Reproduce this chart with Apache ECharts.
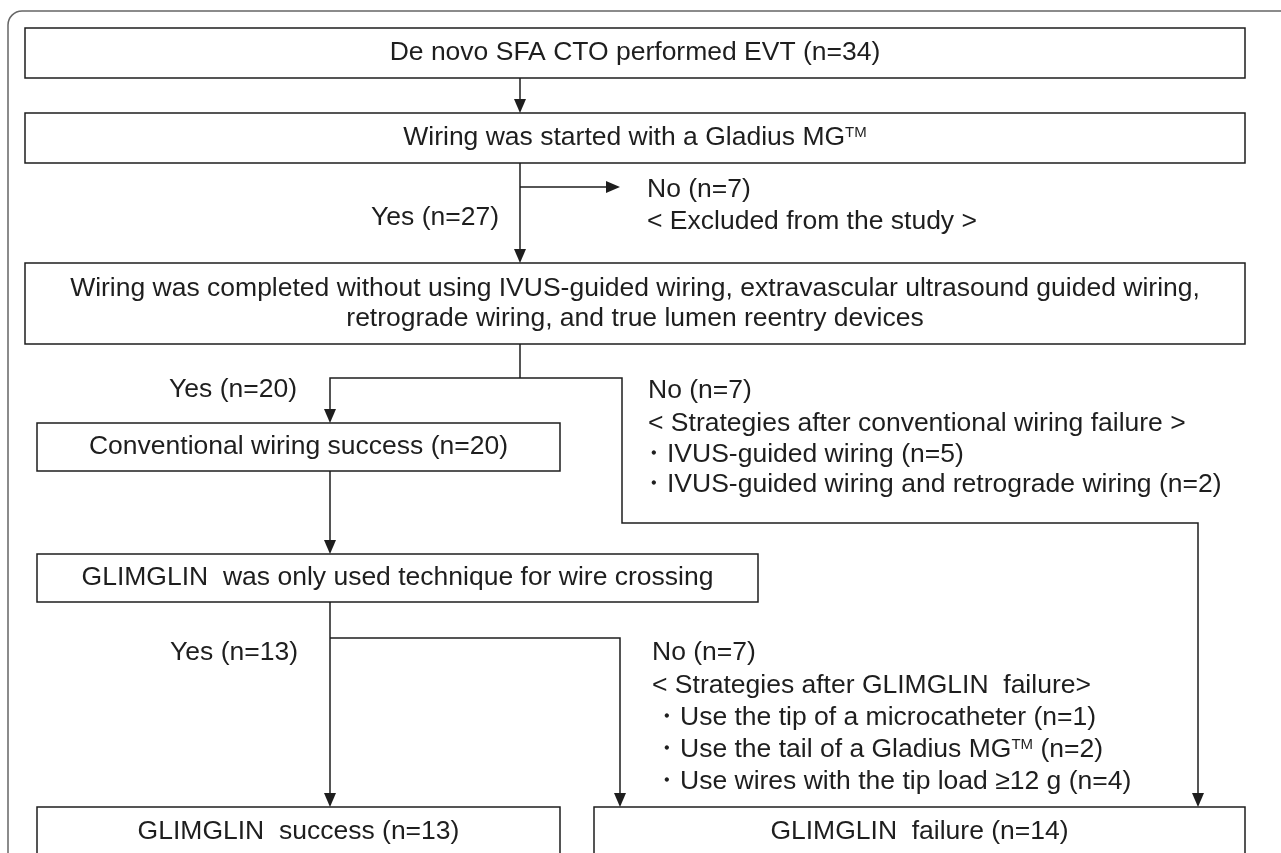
<!DOCTYPE html>
<html>
<head>
<meta charset="utf-8">
<script src="https://cdn.jsdelivr.net/npm/echarts@6/dist/echarts.min.js"></script>
<style>
html, body { margin: 0; padding: 0; background: #fff; }
#flow { width: 1281px; height: 853px; }
</style>
</head>
<body>
<div id="flow"></div>
<script>
// boxes of the flow chart
var boxTexts = [
    'De novo SFA CTO performed EVT (n=34)',
    'Wiring was started with a Gladius MG{sup|TM}',
    'Wiring was completed without using IVUS-guided wiring, extravascular ultrasound guided wiring,\nretrograde wiring, and true lumen reentry devices',
    'Conventional wiring success (n=20)',
    'GLIMGLIN  was only used technique for wire crossing',
    'GLIMGLIN  success (n=13)',
    'GLIMGLIN  failure (n=14)'
];
var boxLeft = [25, 25, 25, 37, 37, 37, 594];
var boxTop = [28, 113, 263, 423, 554, 807, 807];
var boxRight = [1245, 1245, 1245, 560, 758, 560, 1245];
var boxBottom = [78, 163, 344, 471, 602, 857, 857];

// connectors (polylines in chart units), 1 = ends with an arrow
var connectors = [
    [[520, 78], [520, 113]],
    [[520, 163], [520, 263]],
    [[520, 187], [620, 187]],
    [[520, 344], [520, 378]],
    [[520, 378], [330, 378], [330, 423]],
    [[520, 378], [622, 378], [622, 523], [1198, 523], [1198, 807]],
    [[330, 471], [330, 554]],
    [[330, 602], [330, 807]],
    [[330, 638], [620, 638], [620, 807]]
];
var connectorArrow = [1, 1, 1, 0, 1, 1, 1, 1, 1];

// free text next to the branches
var noteTexts = [
    'No (n=7)',
    '< Excluded from the study >',
    'Yes (n=27)',
    'Yes (n=20)',
    'No (n=7)',
    '< Strategies after conventional wiring failure >',
    '・IVUS-guided wiring (n=5)',
    '・IVUS-guided wiring and retrograde wiring (n=2)',
    'Yes (n=13)',
    'No (n=7)',
    '< Strategies after GLIMGLIN  failure>',
    '・Use the tip of a microcatheter (n=1)',
    '・Use the tail of a Gladius MG{sup|TM} (n=2)',
    '・Use wires with the tip load ≥12 g (n=4)'
];
var noteX = [647, 647, 499, 297, 648, 648, 640, 640, 298, 652, 652, 653, 653, 653];
var noteY = [190, 222, 218, 390, 391, 424, 455, 485, 653, 653, 686, 718, 750, 782];
var noteAlign = ['left', 'left', 'right', 'right', 'left', 'left', 'left', 'left', 'right', 'left', 'left', 'left', 'left', 'left'];

var FONT = '26.5px "Liberation Sans", Arial, sans-serif';
var INK = '#1e1e1e';
var richStyle = {
    sup: { fontSize: 15, fontFamily: 'Liberation Sans', fill: INK, padding: [0, 0, 10, 0] }
};

var flowChart = echarts.init(document.getElementById('flow'));

function idxData(n) {
    var d = [];
    for (var i = 0; i < n; i++) d.push([i]);
    return d;
}

var flowOption = {
    animation: false,
    grid: { left: 0, right: 0, top: 0, bottom: 0 },
    xAxis: { type: 'value', min: 0, max: 1281, show: false },
    yAxis: { type: 'value', min: 0, max: 853, inverse: true, show: false },
    series: [
        {
            // outer rounded frame
            type: 'custom',
            clip: false,
            data: [[0]],
            renderItem: function (params, api) {
                var a = api.coord([8, 11]);
                var b = api.coord([1300, 900]);
                return {
                    type: 'rect',
                    shape: { x: a[0], y: a[1], width: b[0] - a[0], height: b[1] - a[1], r: 14 },
                    style: { fill: null, stroke: '#666', lineWidth: 1.5 }
                };
            }
        },
        {
            // boxes
            type: 'custom',
            clip: false,
            data: idxData(boxTexts.length),
            renderItem: function (params, api) {
                var i = params.dataIndex;
                var a = api.coord([boxLeft[i], boxTop[i]]);
                var b = api.coord([boxRight[i], boxBottom[i]]);
                return {
                    type: 'group',
                    children: [
                        {
                            type: 'rect',
                            shape: { x: a[0], y: a[1], width: b[0] - a[0], height: b[1] - a[1] },
                            style: { fill: '#fff', stroke: INK, lineWidth: 1.5 }
                        },
                        {
                            type: 'text',
                            style: {
                                text: boxTexts[i],
                                x: (a[0] + b[0]) / 2,
                                y: (a[1] + b[1]) / 2,
                                align: 'center',
                                verticalAlign: 'middle',
                                font: FONT,
                                fill: INK,
                                lineHeight: 30,
                                rich: richStyle
                            }
                        }
                    ]
                };
            }
        },
        {
            // connectors and arrow heads
            type: 'custom',
            clip: false,
            data: idxData(connectors.length),
            renderItem: function (params, api) {
                var i = params.dataIndex;
                var pts = connectors[i].map(function (p) { return api.coord(p); });
                var children = [];
                if (connectorArrow[i]) {
                    var p0 = pts[pts.length - 2], p1 = pts[pts.length - 1];
                    var dx = p1[0] - p0[0], dy = p1[1] - p0[1];
                    var len = Math.sqrt(dx * dx + dy * dy);
                    var ux = dx / len, uy = dy / len;
                    var L = 14, W = 6;
                    var base = [p1[0] - ux * L, p1[1] - uy * L];
                    pts[pts.length - 1] = base;
                    children.push({
                        type: 'polygon',
                        shape: { points: [p1, [base[0] - uy * W, base[1] + ux * W], [base[0] + uy * W, base[1] - ux * W]] },
                        style: { fill: INK }
                    });
                }
                children.unshift({
                    type: 'polyline',
                    shape: { points: pts },
                    style: { stroke: INK, lineWidth: 1.5, fill: null }
                });
                return { type: 'group', children: children };
            }
        },
        {
            // branch notes
            type: 'custom',
            clip: false,
            data: idxData(noteTexts.length),
            renderItem: function (params, api) {
                var i = params.dataIndex;
                var p = api.coord([noteX[i], noteY[i]]);
                return {
                    type: 'text',
                    style: {
                        text: noteTexts[i],
                        x: p[0],
                        y: p[1],
                        align: noteAlign[i],
                        verticalAlign: 'middle',
                        font: FONT,
                        fill: INK,
                        rich: richStyle
                    }
                };
            }
        }
    ]
};
flowChart.setOption(flowOption);
</script>
</body>
</html>
